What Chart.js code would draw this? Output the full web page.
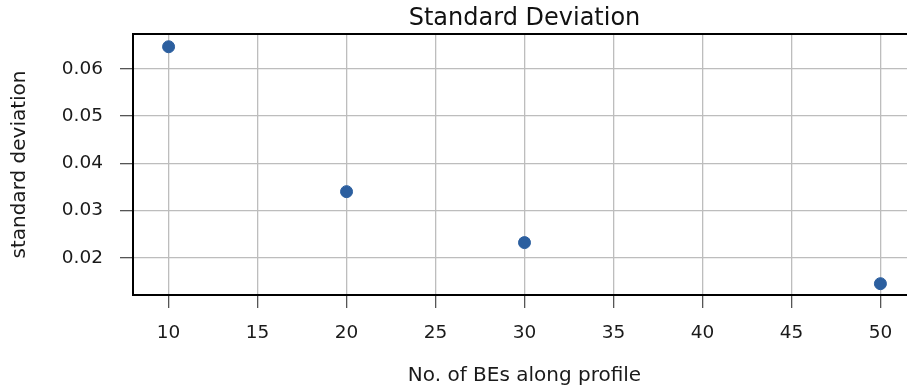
<!DOCTYPE html>
<html>
<head>
<meta charset="utf-8">
<script src="https://cdn.jsdelivr.net/npm/chart.js@4"></script>
<style>
  html, body { margin: 0; padding: 0; overflow: hidden; background: #fff; }
  #wrap { position: relative; width: 1000px; height: 390px; }
</style>
</head>
<body>
<div id="wrap"><canvas id="sdChart" width="1000" height="390"></canvas></div>
<script>
// data
const nBEs = [10, 20, 30, 50];
const stdDev = [0.0647, 0.0340, 0.0232, 0.0145];
const xTicks = [10, 15, 20, 25, 30, 35, 40, 45, 50];
const yTicks = [0.02, 0.03, 0.04, 0.05, 0.06];

const tickFont = { family: "DejaVu Sans", size: 18.5 };
const labelFont = { family: "DejaVu Sans", size: 20 };

// top spine of the plot box
const frame = {
  id: "frame",
  afterDraw(chart) {
    const { ctx, chartArea: a } = chart;
    ctx.save();
    ctx.strokeStyle = "#000";
    ctx.lineWidth = 2;
    ctx.beginPath();
    ctx.moveTo(a.left - 1, a.top);
    ctx.lineTo(a.right, a.top);
    ctx.stroke();
    ctx.restore();
  }
};

const ctx = document.getElementById("sdChart").getContext("2d");
new Chart(ctx, {
  type: "scatter",
  data: {
    datasets: [{
      label: "standard deviation",
      data: nBEs.map((x, i) => ({ x: x, y: stdDev[i] })),
      backgroundColor: "#2c5f9f",
      borderColor: "#2c5f9f",
      pointRadius: 6,
      pointHoverRadius: 6,
      clip: false
    }]
  },
  options: {
    responsive: false,
    animation: false,
    layout: { padding: { left: 0, right: 84, top: 0, bottom: 0 } },
    plugins: {
      legend: { display: false },
      tooltip: { enabled: false }
    },
    scales: {
      // top axis only carries the title so it is centred over the plot area
      xTop: {
        type: "linear",
        position: "top",
        min: 8,
        max: 52,
        afterFit: (s) => { s.height = 34; },
        ticks: { display: false },
        grid: { display: false },
        border: { display: false },
        title: { display: true, text: "Standard Deviation", color: "#111", font: { family: "DejaVu Sans", size: 24 }, padding: { top: 4, bottom: 0 } }
      },
      x: {
        type: "linear",
        min: 8,
        max: 52,
        afterBuildTicks: (s) => { s.ticks = xTicks.map(v => ({ value: v })); },
        afterFit: (s) => { s.height = 95; },
        ticks: { color: "#1a1a1a", font: tickFont, padding: 14, maxRotation: 0 },
        grid: { color: "#bdbdbd", lineWidth: 1.3, tickColor: "#555", tickWidth: 1.3, tickLength: 13 },
        border: { color: "#000", width: 2 },
        title: { display: true, text: "No. of BEs along profile", color: "#1a1a1a", font: labelFont, padding: { top: 0, bottom: 2 } }
      },
      y: {
        type: "linear",
        min: 0.0121,
        max: 0.0674,
        afterBuildTicks: (s) => { s.ticks = yTicks.map(v => ({ value: v })); },
        afterFit: (s) => { s.width = 133; },
        ticks: { color: "#1a1a1a", font: tickFont, padding: 17, callback: (v) => v.toFixed(2) },
        grid: { color: "#bdbdbd", lineWidth: 1.3, tickColor: "#555", tickWidth: 1.3, tickLength: 13 },
        border: { color: "#000", width: 2 },
        title: { display: true, text: "standard deviation", color: "#1a1a1a", font: labelFont, padding: { top: 8, bottom: 0 } }
      }
    }
  },
  plugins: [frame]
});
</script>
</body>
</html>
